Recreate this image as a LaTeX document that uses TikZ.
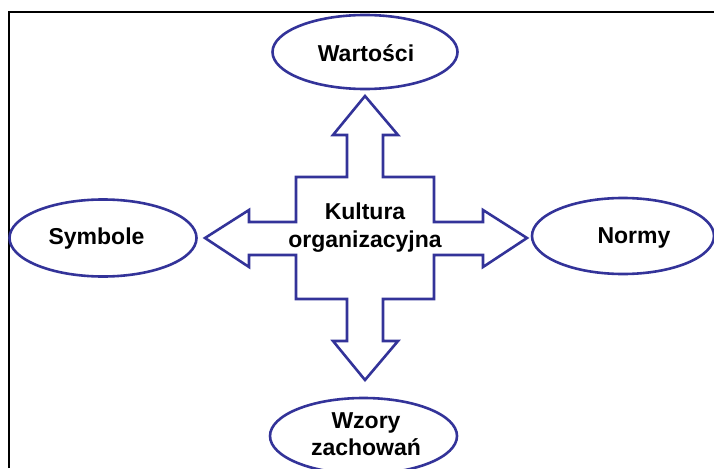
\documentclass[tikz,border=0pt]{standalone}
\usepackage{fontspec}
\setmainfont{Liberation Sans}
\usetikzlibrary{shapes.geometric}
\definecolor{inkblue}{RGB}{51,51,153}
\tikzset{
  oval/.style={ellipse, draw=inkblue, line width=2.6pt, fill=white, inner sep=0pt},
  lbl/.style={font=\bfseries\fontsize{23}{28}\selectfont, text=black, inner sep=0pt, anchor=base},
  blockarrow/.style={draw=inkblue, line width=2.6pt, fill=white, line join=miter}
}
\begin{document}
\begin{tikzpicture}[x=1pt,y=-1pt]
\useasboundingbox (0,0) rectangle (714,468);
% frame (top and left edges only)
\draw[line width=2pt] (8.5,468) -- (8.5,12.5) -- (714,12.5);

% four-way block arrow around the centre
\draw[blockarrow]
  (365,96) -- (398,135) -- (383,135) -- (383,177) -- (434,177) -- (434,222)
  -- (483,222) -- (483,210) -- (527,238) -- (483,267) -- (483,255) -- (434,255)
  -- (434,299) -- (383,299) -- (383,341) -- (398,341) -- (365,380) -- (333,341)
  -- (347,341) -- (347,299) -- (296,299) -- (296,255) -- (249,255) -- (249,267)
  -- (205,238) -- (249,210) -- (249,222) -- (296,222) -- (296,177) -- (347,177)
  -- (347,135) -- (333,135) -- cycle;
\node[lbl] (k1) at (365,219) {Kultura};
\node[lbl] (k2) at (365,247) {organizacyjna};

% surrounding ellipses
\node[oval, minimum width=185pt, minimum height=74pt] (war) at (365,52) {};
\node[lbl] (warT) at (366,62) {Warto\'sci};

\node[oval, minimum width=187pt, minimum height=77pt] (sym) at (103,238) {};
\node[lbl] (symT) at (96.5,244.5) {Symbole};

\node[oval, minimum width=182pt, minimum height=76pt] (nor) at (623,236) {};
\node[lbl] (norT) at (634,243) {Normy};

\node[oval, minimum width=187pt, minimum height=76pt] (wzo) at (363.5,436) {};
\node[lbl] (wzoT1) at (366,428) {Wzory};
\node[lbl] (wzoT2) at (366,455) {zachowań};
\end{tikzpicture}
\end{document}
